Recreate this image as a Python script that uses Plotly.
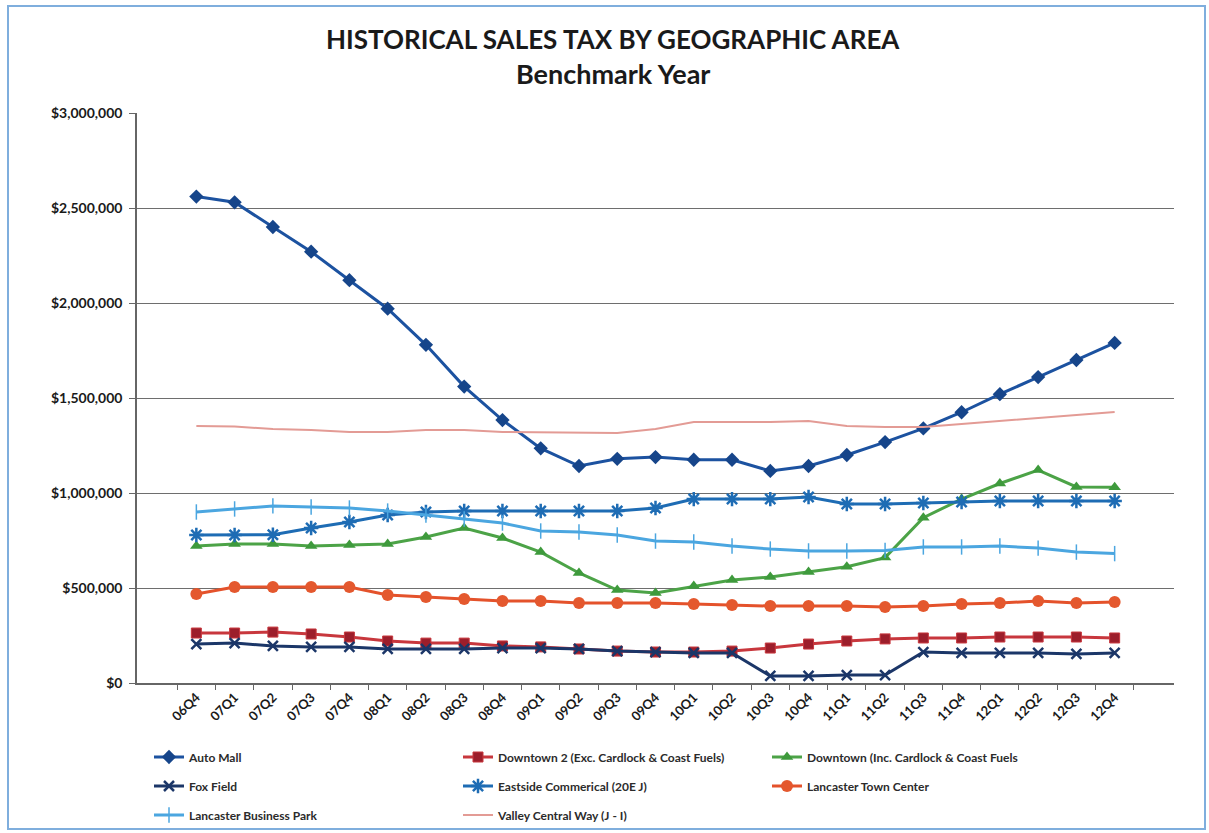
import plotly.graph_objects as go

# Quarter labels along the x axis
quarters = [
    "06Q4", "07Q1", "07Q2", "07Q3", "07Q4", "08Q1", "08Q2", "08Q3", "08Q4",
    "09Q1", "09Q2", "09Q3", "09Q4", "10Q1", "10Q2", "10Q3", "10Q4",
    "11Q1", "11Q2", "11Q3", "11Q4", "12Q1", "12Q2", "12Q3", "12Q4",
]

# Quarterly sales tax by geographic area (dollars)
auto_mall = [
    2560000, 2530000, 2400000, 2270000, 2120000, 1970000, 1780000, 1560000, 1384000,
    1235000, 1142000, 1180000, 1189000, 1175000, 1175000, 1116000, 1142000,
    1200000, 1268000, 1340000, 1425000, 1520000, 1610000, 1700000, 1790000,
]
downtown_2 = [
    263000, 263000, 268000, 258000, 242000, 221000, 210000, 210000, 195000,
    190000, 179000, 168000, 163000, 163000, 168000, 184000, 205000,
    221000, 232000, 237000, 237000, 242000, 242000, 242000, 237000,
]
downtown_inc = [
    721000, 732000, 732000, 721000, 726000, 732000, 768000, 816000, 763000,
    689000, 579000, 489000, 474000, 510000, 542000, 558000, 584000,
    612000, 660000, 870000, 968000, 1050000, 1121000, 1032000, 1030000,
]
fox_field = [
    205000, 210000, 195000, 190000, 190000, 179000, 179000, 179000, 184000,
    184000, 179000, 168000, 163000, 158000, 158000, 37000, 37000,
    42000, 42000, 163000, 158000, 158000, 158000, 153000, 158000,
]
eastside = [
    779000, 779000, 780000, 816000, 847000, 884000, 900000, 905000, 905000,
    905000, 905000, 905000, 921000, 968000, 968000, 968000, 979000,
    942000, 942000, 947000, 953000, 958000, 958000, 958000, 958000,
]
town_center = [
    468000, 505000, 505000, 505000, 505000, 463000, 453000, 442000, 432000,
    432000, 421000, 421000, 421000, 416000, 410000, 405000, 405000,
    405000, 400000, 405000, 416000, 421000, 432000, 421000, 426000,
]
business_park = [
    900000, 916000, 932000, 926000, 921000, 905000, 884000, 863000, 842000,
    800000, 795000, 779000, 747000, 742000, 721000, 705000, 695000,
    695000, 698000, 716000, 716000, 721000, 710000, 689000, 681000,
]
valley_central = [
    1353000, 1350000, 1337000, 1332000, 1321000, 1321000, 1332000, 1332000, 1321000,
    1320000, 1316000, 1316000, 1337000, 1374000, 1374000, 1374000, 1379000,
    1353000, 1348000, 1348000, 1363000, 1379000, 1395000, 1410000, 1426000,
]

y_ticks = [0, 500000, 1000000, 1500000, 2000000, 2500000, 3000000]
y_tick_text = ["$0", "$500,000", "$1,000,000", "$1,500,000", "$2,000,000", "$2,500,000", "$3,000,000"]

FONT = "Lato"
W, H = 1209, 833
L, R, T, B = 137, 35, 113, 150
PW, PH = W - L - R, H - T - B

fig = go.Figure()


def add_series(name, values, color, symbol=None, msize=10, mcolor=None,
               mline=None, lw=3, legend="legend"):
    marker = dict(symbol=symbol, size=msize, color=mcolor or color,
                  line=dict(width=mline[0], color=mline[1]) if mline else dict(width=0))
    fig.add_trace(go.Scatter(
        x=quarters, y=values, name=name,
        mode="lines+markers" if symbol else "lines",
        line=dict(color=color, width=lw),
        marker=marker if symbol else None,
        legend=legend,
    ))


# Row 1 of the legend
add_series("Auto Mall", auto_mall, "#1C52A0", "diamond", 11, "#16458A", legend="legend")
add_series("Downtown 2 (Exc. Cardlock & Coast Fuels)", downtown_2, "#C8373D", "square", 10,
           "#9C1E2B", mline=(1, "#C8373D"), legend="legend")
add_series("Downtown (Inc. Cardlock & Coast Fuels", downtown_inc, "#4CA347", "triangle-up", 11,
           "#3E9A3C", legend="legend")
# Row 2
add_series("Fox Field", fox_field, "#1B3668", "x-thin-open", 10,
           mline=(2.5, "#1F5AA8"), legend="legend2")
add_series("Eastside Commerical (20E J)", eastside, "#1E6CB4", "asterisk-open", 12,
           mline=(2.5, "#1E6CB4"), legend="legend2")
add_series("Lancaster Town Center", town_center, "#E4522B", "circle", 12, "#E4582E", legend="legend2")
# Row 3
add_series("Lancaster Business Park", business_park, "#4BA6E0", "line-ns-open", 11,
           mline=(1.5, "#4BA6E0"), legend="legend3")
add_series("Valley Central Way (J - I)", valley_central, "#E39B95", None, lw=2, legend="legend3")

# Legend rows are placed in container coordinates so they don't grow the margins
legend_common = dict(
    orientation="h", xanchor="left", yanchor="middle",
    xref="container", yref="container", x=149 / W,
    entrywidth=264, entrywidthmode="pixels",
    font=dict(family=FONT, size=12, color="#2b2b2b", weight="bold"),
    bgcolor="rgba(0,0,0,0)", itemwidth=30,
)

# Page frame around the chart
frame = dict(type="rect", xref="paper", yref="paper",
             x0=(8 - L) / PW, x1=(1205 - L) / PW,
             y0=(H - B - 829) / PH, y1=(H - B - 6) / PH,
             line=dict(color="#7FAEDD", width=2), layer="below")

title_x = (613 - L) / PW
titles = [
    dict(text="HISTORICAL SALES TAX BY GEOGRAPHIC AREA", y=(H - B - 39) / PH, size=26),
    dict(text="Benchmark Year", y=(H - B - 73) / PH, size=27),
]
annotations = [
    dict(text=t["text"], x=title_x, y=t["y"], xref="paper", yref="paper",
         xanchor="center", yanchor="middle", showarrow=False,
         font=dict(family=FONT, size=t["size"], color="#1a1a1a", weight="bold"))
    for t in titles
]

fig.update_layout(
    width=W, height=H,
    margin=dict(l=L, r=R, t=T, b=B),
    paper_bgcolor="white", plot_bgcolor="white",
    showlegend=True,
    legend=dict(legend_common, y=1 - 757 / H),
    legend2=dict(legend_common, y=1 - 786 / H),
    legend3=dict(legend_common, y=1 - 815 / H),
    shapes=[frame],
    annotations=annotations,
    xaxis=dict(
        type="category", showgrid=False, tickson="boundaries",
        ticks="outside", ticklen=5, tickcolor="#666",
        showline=True, linecolor="#666", linewidth=1.5,
        tickangle=-45,
        tickfont=dict(family=FONT, size=13, color="#1a1a1a", weight="bold"),
    ),
    yaxis=dict(
        range=[0, 3000000], tickvals=y_ticks, ticktext=y_tick_text,
        showgrid=True, gridcolor="#6e6e6e", gridwidth=1.3,
        ticks="outside", ticklen=6, tickcolor="#666",
        showline=True, linecolor="#666", linewidth=1.5,
        zeroline=False, ticklabelstandoff=4,
        tickfont=dict(family=FONT, size=14, color="#1a1a1a", weight="bold"),
    ),
)

fig.write_html("out.html")
